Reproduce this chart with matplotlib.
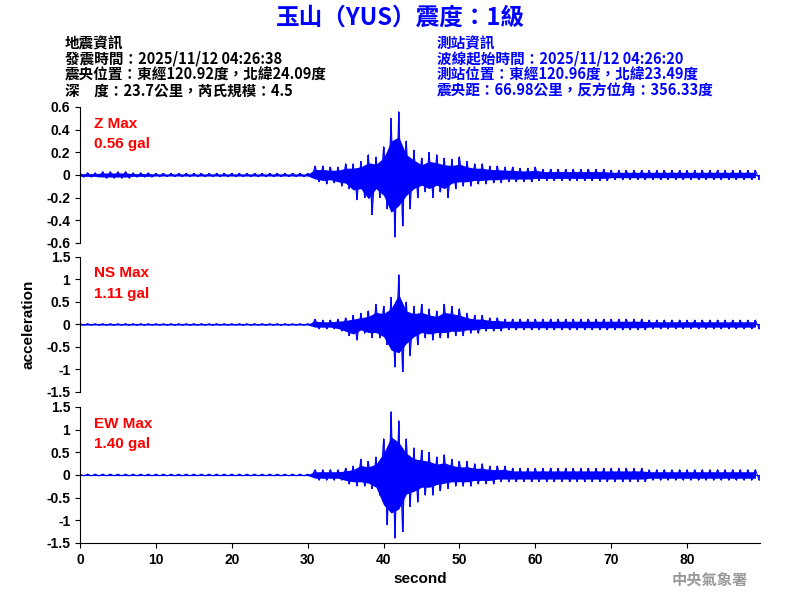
import numpy as np
import matplotlib
matplotlib.use("Agg")
import matplotlib.pyplot as plt

plt.rcParams['font.family'] = ['Noto Sans CJK TC', 'DejaVu Sans']

z_max = [.02,.02,.02,.03,.03,.03,.03,.02,.02,.02] + [.015]*20 + \
    [.015,.08,.08,.07,.07,.10,.10,.12,.18,.16,
     .25,.50,.56,.30,.22,.15,.20,.18,.15,.14,
     .16,.12,.10,.10,.08,.08,.07,.07,.06,.06,
     .07,.05,.05,.05,.05,.05,.05,.05,.05,.05] + [.04]*20
z_min = [-.02,-.02,-.02,-.03,-.03,-.03,-.03,-.02,-.02,-.02] + [-.015]*20 + \
    [-.015,-.06,-.08,-.07,-.10,-.12,-.22,-.20,-.35,-.20,
     -.30,-.55,-.45,-.30,-.20,-.15,-.20,-.15,-.20,-.12,
     -.10,-.10,-.08,-.08,-.07,-.07,-.06,-.06,-.06,-.06,
     -.05,-.05,-.05,-.05,-.05,-.05,-.05,-.05,-.05,-.05] + [-.04]*20
ns_max = [.02]*30 + \
    [.02,.12,.10,.10,.12,.15,.20,.25,.30,.45,
     .40,.60,1.11,.50,.40,.45,.35,.30,.45,.40,
     .35,.25,.20,.20,.15,.15,.12,.12,.12,.12] + [.12]*15 + [.10]*15
ns_min = [-.02]*30 + \
    [-.02,-.10,-.10,-.10,-.15,-.25,-.35,-.20,-.30,-.30,
     -.45,-.95,-1.05,-.70,-.45,-.30,-.35,-.30,-.30,-.25,
     -.25,-.20,-.20,-.15,-.15,-.15,-.12,-.12,-.12,-.12] + [-.12]*15 + [-.10]*15
ew_max = [.02]*30 + \
    [.02,.12,.12,.12,.12,.15,.20,.35,.30,.40,
     .80,1.40,1.20,.80,.60,.55,.50,.40,.45,.35,
     .30,.30,.25,.25,.20,.20,.20,.15,.15,.15] + [.15]*15 + [.12]*15
ew_min = [-.02]*30 + \
    [-.02,-.12,-.12,-.12,-.12,-.20,-.25,-.25,-.30,-.45,
     -1.10,-1.40,-1.25,-.70,-.60,-.45,-.45,-.35,-.30,-.25,
     -.25,-.25,-.20,-.20,-.20,-.15,-.15,-.15,-.15,-.15] + [-.15]*15 + [-.12]*15

channels = [("Z Max", "0.56 gal", z_max, z_min, (-0.6, 0.6), [-0.6,-0.4,-0.2,0,0.2,0.4,0.6]),
            ("NS Max", "1.11 gal", ns_max, ns_min, (-1.5, 1.5), [-1.5,-1,-0.5,0,0.5,1,1.5]),
            ("EW Max", "1.40 gal", ew_max, ew_min, (-1.5, 1.5), [-1.5,-1,-0.5,0,0.5,1,1.5])]

fig = plt.figure(figsize=(8, 6), dpi=100)
rects = [(0.1, 0.595, 0.85, 0.2267), (0.1, 0.3467, 0.85, 0.225), (0.1, 0.095, 0.85, 0.2267)]
for i, ((name, val, mx, mn, yl, yt), r) in enumerate(zip(channels, rects)):
    ax = fig.add_axes(r)
    t = np.arange(len(mx))
    mxa, mna = np.array(mx), np.array(mn)
    ax.fill_between(t, 0.6 * mna, 0.6 * mxa, color='blue', lw=0)
    ax.vlines(t + 0.5, mna, 0, color='blue', lw=1.2)
    ax.vlines(t, 0, mxa, color='blue', lw=1.2)
    x = np.column_stack([t, t + 0.5]).ravel()
    y = np.column_stack([mxa, mna]).ravel()
    ax.plot(x, y, color='blue', lw=0.7)
    ax.axhline(0, color='blue', lw=0.8)
    ax.set_xlim(0, 89.6)
    ax.set_ylim(*yl)
    ax.set_yticks(yt)
    ax.set_yticklabels([f"{v:g}" for v in yt], family='Liberation Sans', fontsize=10, fontweight='bold')
    for s in ['top', 'right']:
        ax.spines[s].set_visible(False)
    ax.text(0.02, 0.93, name, transform=ax.transAxes, color='red', fontsize=11,
            family='Liberation Sans', va='top', fontweight='bold')
    ax.text(0.02, 0.78, val, transform=ax.transAxes, color='red', fontsize=11,
            family='Liberation Sans', va='top', fontweight='bold')
    if i < 2:
        ax.spines['bottom'].set_visible(False)
        ax.set_xticks([])
    else:
        ax.set_xticks(range(0, 90, 10))
        ax.set_xticklabels([str(v) for v in range(0, 90, 10)], family='Liberation Sans',
                           fontsize=10, fontweight='bold')
        ax.set_xlabel("second", family='Liberation Sans', fontsize=11, fontweight='bold')
    if i == 1:
        ax.set_ylabel("acceleration", family='Liberation Sans', fontsize=11, fontweight='bold', labelpad=8)

fig.text(0.5, 1 - 18/600, "玉山（YUS）震度：1級", color='blue', fontsize=17, fontweight='bold',
         ha='center', va='center')
left = ["地震資訊", "發震時間：2025/11/12 04:26:38", "震央位置：東經120.92度，北緯24.09度",
        "深　度：23.7公里，芮氏規模：4.5"]
right = ["測站資訊", "波線起始時間：2025/11/12 04:26:20", "測站位置：東經120.96度，北緯23.49度",
         "震央距：66.98公里，反方位角：356.33度"]
for k, (a, b) in enumerate(zip(left, right)):
    yy = 1 - (43 + 16*k)/600
    fig.text(65/800, yy, a, color='black', fontsize=10.5, va='center', fontweight='bold')
    fig.text(437/800, yy, b, color='blue', fontsize=10.5, va='center', fontweight='bold')
fig.text(748/800, 1 - 580/600, "中央氣象署", color='#999999', fontsize=11, fontweight='bold',
         ha='right', va='center')
fig.savefig("out.png", dpi=100)
